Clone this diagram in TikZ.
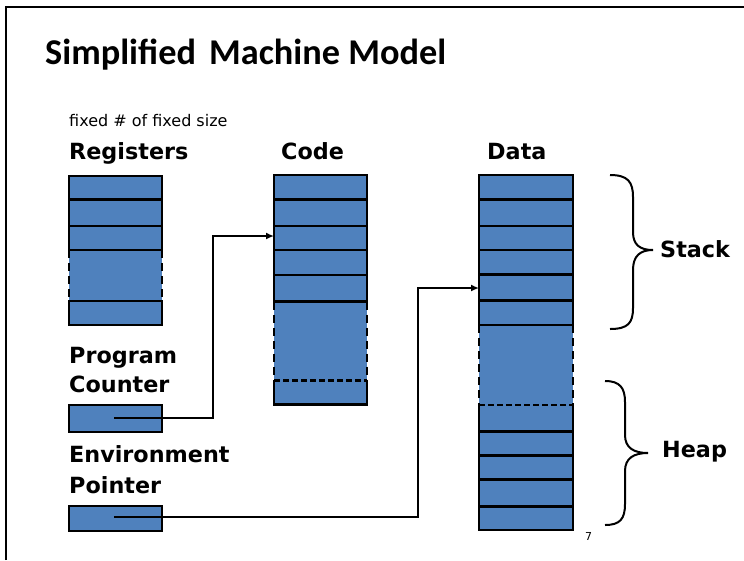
\documentclass[tikz,border=0pt]{standalone}
\usepackage{fontspec}
\setmainfont{DejaVu Sans}
\newfontfamily\titlefont{Carlito}
\usetikzlibrary{arrows.meta}
\definecolor{cellblue}{HTML}{4F81BD}
\begin{document}
\begin{tikzpicture}[x=1pt,y=-1pt,
  cell/.style={draw=black, fill=cellblue, line width=2.4pt},
  gapfill/.style={fill=cellblue},
  edge/.style={draw=black, line width=2.4pt},
  dashv/.style={draw=black, line width=2.6pt, dash pattern=on 8pt off 5pt},
  dashh/.style={draw=black, line width=2.2pt, dash pattern=on 6pt off 3pt},
  boxnode/.style={draw=black, fill=cellblue, line width=2.4pt, inner sep=0pt, outer sep=0pt},
  lbl/.style={font=\fontsize{22.3}{26}\selectfont\bfseries, anchor=base west, inner sep=0pt},
  conn/.style={line width=2pt, -{Latex[length=8pt,width=7pt]}},
  brace/.style={draw=black, line width=2pt}]
\useasboundingbox (0,0) rectangle (744,560);
\draw[line width=2pt] (6,560) -- (6,7) -- (744,7);

% title
\node[anchor=base west, inner sep=0pt, font=\titlefont\fontsize{36.3}{40}\selectfont\bfseries] (title) at (45,64) {Simplified\hspace{0.36em}Machine Model};

% labels
\node[anchor=base west, inner sep=0pt, font=\fontsize{16}{18}\selectfont] (note) at (69,126) {fixed \# of fixed size};
\node[lbl] (lreg) at (69,159) {Registers};
\node[lbl] (lcode) at (281,159) {Code};
\node[lbl] (ldata) at (487,159) {Data};
\node[lbl] (lpc1) at (69,363) {Program};
\node[lbl] (lpc2) at (69,392) {Counter};
\node[lbl] (lep1) at (69,462) {Environment};
\node[lbl] (lep2) at (69,493) {Pointer};
\node[lbl] (lstack) at (660,257) {Stack};
\node[lbl] (lheap) at (662,457) {Heap};
\node[anchor=base west, inner sep=0pt, font=\fontsize{11}{12}\selectfont] (pnum) at (585,540) {7};

% registers
\fill[gapfill] (69,250) rectangle (162,301);
\draw[dashv] (69,250) -- (69,301);
\draw[dashv] (162,250) -- (162,301);
\draw[cell] (69,176) rectangle (162,199.5);
\draw[cell] (69,199.5) rectangle (162,226);
\draw[cell] (69,226) rectangle (162,250);
\draw[cell] (69,301) rectangle (162,325);

% code
\fill[gapfill] (274,301.5) rectangle (367,380.5);
\draw[dashv] (274,301.5) -- (274,380.5);
\draw[dashv] (367,301.5) -- (367,380.5);
\fill[gapfill] (274,380.5) rectangle (367,404.5);
\draw[edge] (274,380.5) -- (274,404.5) -- (367,404.5) -- (367,380.5);
\draw[dashh] (274,380.5) -- (367,380.5);
\draw[cell] (274,175) rectangle (367,199.5);
\draw[cell] (274,199.5) rectangle (367,226);
\node[boxnode, minimum width=93pt, minimum height=24pt, anchor=north west] (code3) at (274,226) {};
\draw[cell] (274,250) rectangle (367,275);
\draw[cell] (274,275) rectangle (367,301.5);

% data
\fill[gapfill] (479,325) rectangle (573,405);
\draw[dashv] (479,325) -- (479,405);
\draw[dashv] (573,325) -- (573,405);
\fill[gapfill] (479,405) rectangle (573,431.5);
\draw[edge] (479,405) -- (479,431.5) -- (573,431.5) -- (573,405);
\draw[dashh] (479,405) -- (573,405);
\draw[cell] (479,431.5) rectangle (573,455.5);
\draw[cell] (479,455.5) rectangle (573,479.5);
\draw[cell] (479,479.5) rectangle (573,506.5);
\draw[cell] (479,506.5) rectangle (573,530);
\draw[cell] (479,175) rectangle (573,199.5);
\draw[cell] (479,199.5) rectangle (573,226);
\draw[cell] (479,226) rectangle (573,250);
\draw[cell] (479,250) rectangle (573,274.5);
\node[boxnode, minimum width=94pt, minimum height=26pt, anchor=north west] (data5) at (479,274.5) {};
\draw[cell] (479,300.5) rectangle (573,325);

% pointer boxes
\node[boxnode, minimum width=93pt, minimum height=27pt, anchor=north west] (pc) at (69,405) {};
\node[boxnode, minimum width=93pt, minimum height=25pt, anchor=north west] (ep) at (69,506) {};

% connectors
\coordinate (pcstart) at (114,418);
\coordinate (pcbend) at (213,236);
\draw[conn] (pcstart) -| (pcbend) -- (code3.west |- pcbend);
\coordinate (epstart) at (114,517);
\coordinate (epbend) at (418,288);
\draw[conn] (epstart) -| (epbend) -- (data5.west |- epbend);

% braces
\draw[brace] (610,175) .. controls (628,175) and (633,182) .. (633,197) -- (633,232)
  .. controls (633,245) and (640,250) .. (653,250)
  .. controls (640,250) and (633,256) .. (633,270) -- (633,308)
  .. controls (633,323) and (628,329) .. (610,329);
\draw[brace] (605,381) .. controls (620,381) and (625,388) .. (625,402) -- (625,435)
  .. controls (625,448) and (634,453) .. (648,453)
  .. controls (634,453) and (625,458) .. (625,471) -- (625,504)
  .. controls (625,519) and (620,525) .. (605,525);
\end{tikzpicture}
\end{document}
